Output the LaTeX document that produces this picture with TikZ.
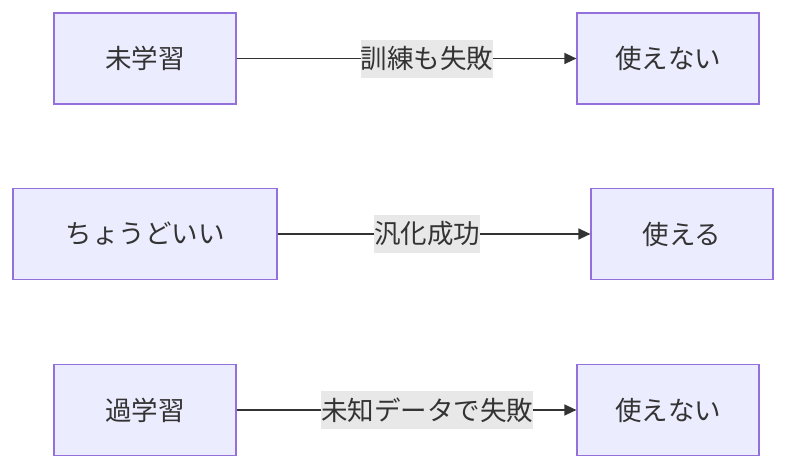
\documentclass[tikz,border=0pt]{standalone}
\usepackage{fontspec}
\setmainfont{Noto Sans CJK JP}
\usetikzlibrary{arrows.meta}
\definecolor{nodefill}{HTML}{ECECFF}
\definecolor{nodedraw}{HTML}{9370DB}
\definecolor{edgecol}{HTML}{333333}
\definecolor{lblbg}{HTML}{E8E8E8}
\begin{document}
\begin{tikzpicture}[x=1pt,y=-1pt,
  box/.style={draw=nodedraw,fill=nodefill,line width=1.2pt,text=edgecol,font=\fontsize{26.5}{30}\selectfont,inner sep=0pt},
  lbl/.style={fill=lblbg,text=edgecol,font=\fontsize{26.5}{30}\selectfont,inner sep=0pt,minimum height=38pt},
  conn/.style={draw=edgecol,line width=1.3pt,-{Triangle[length=12pt,width=11pt]}}]
\useasboundingbox (0,0) rectangle (800,469);
\node[box,minimum width=182pt,minimum height=91pt] (a1) at (145,58.5) {未学習};
\node[box,minimum width=182pt,minimum height=91pt] (b1) at (668,58.5) {使えない};
\node[box,minimum width=264pt,minimum height=91pt] (a2) at (145,234) {ちょうどいい};
\node[box,minimum width=182pt,minimum height=91pt] (b2) at (682,234) {使える};
\node[box,minimum width=182pt,minimum height=91pt] (a3) at (145,410) {過学習};
\node[box,minimum width=182pt,minimum height=91pt] (b3) at (668,410) {使えない};
\draw[conn] (a1) -- (b1);
\draw[conn] (a2) -- (b2);
\draw[conn] (a3) -- (b3);
\node[lbl] (l1) at (427,58.5) {訓練も失敗};
\node[lbl] (l2) at (427,234) {汎化成功};
\node[lbl] (l3) at (427,410) {未知データで失敗};
\end{tikzpicture}
\end{document}
